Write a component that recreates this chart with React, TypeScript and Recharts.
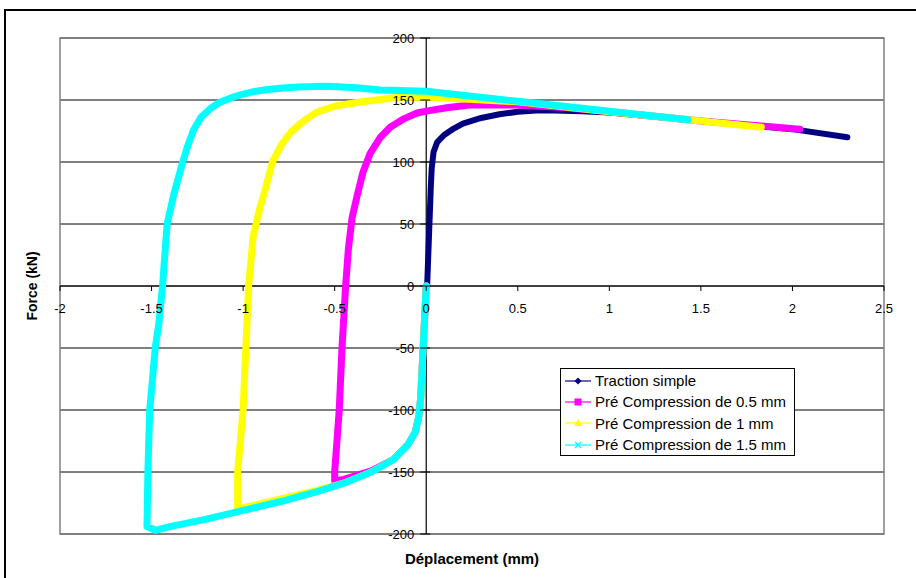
import React from "react";
import {
  LineChart,
  Line,
  XAxis,
  YAxis,
  CartesianGrid,
  ReferenceLine,
  ReferenceArea,
  Legend,
} from "recharts";

// ---------- data ----------
const xTicks = [-2, -1.5, -1, -0.5, 0, 0.5, 1, 1.5, 2, 2.5];
const yTicks = [-200, -150, -100, -50, 0, 50, 100, 150, 200];

const seriesNames = [
  "Traction simple",
  "Pré Compression de 0.5 mm",
  "Pré Compression de 1 mm",
  "Pré Compression de 1.5 mm",
];

const tractionX = [0.005, 0.01, 0.015, 0.02, 0.025, 0.03, 0.04, 0.06, 0.1, 0.15, 0.2, 0.3, 0.4, 0.5, 0.6, 0.7, 0.85, 1.0, 1.5, 2.0, 2.3];
const tractionY = [0, 20, 40, 60, 80, 95, 108, 116, 122, 127, 131, 135.5, 138.5, 140.5, 141.5, 141.5, 141, 140, 133, 126.5, 120];

const pre05X = [0, -0.01, -0.02, -0.03, -0.04, -0.06, -0.1, -0.18, -0.3, -0.45, -0.5, -0.5, -0.475, -0.46, -0.44, -0.425, -0.405, -0.377, -0.345, -0.306, -0.25, -0.197, -0.12, -0.05, 0, 0.12, 0.24, 0.5, 0.75, 1.0, 1.5, 2.04];
const pre05Y = [0, -30, -60, -90, -105, -118, -128, -140, -149, -156, -157, -150, -100, -50, 0, 30, 55, 73, 92, 107, 120, 128, 135, 139.5, 141, 144, 146, 146, 144, 140.5, 133, 126.5];

const pre1X = [0, -0.01, -0.02, -0.03, -0.04, -0.06, -0.1, -0.18, -0.3, -0.45, -0.6, -0.8, -1.0, -1.03, -1.03, -1.0, -0.97, -0.945, -0.91, -0.875, -0.84, -0.79, -0.74, -0.67, -0.6, -0.5, -0.38, -0.16, 0, 0.5, 1.0, 1.5, 1.83];
const pre1Y = [0, -30, -60, -90, -105, -118, -128, -140, -150, -159, -165, -172, -179, -181, -150, -100, 0, 40, 62, 80, 100, 114, 124, 133, 140, 145, 148, 152, 152.5, 148.5, 140.5, 133, 128];

const pre15X = [0, -0.01, -0.02, -0.03, -0.04, -0.06, -0.1, -0.18, -0.3, -0.45, -0.6, -0.8, -1.0, -1.2, -1.4, -1.48, -1.525, -1.52, -1.51, -1.48, -1.46, -1.44, -1.415, -1.38, -1.33, -1.3, -1.27, -1.23, -1.18, -1.13, -1.07, -1.02, -0.95, -0.89, -0.8, -0.7, -0.55, -0.4, -0.25, 0, 0.5, 1.0, 1.43];
const pre15Y = [0, -30, -60, -90, -105, -118, -128, -140, -150, -159, -166, -174, -181, -188, -194, -197, -194, -150, -100, -50, -30, 0, 50, 73, 100, 114, 126, 136, 143, 148, 151.5, 154, 156.5, 158, 159.5, 160.5, 161, 160, 158, 157, 149, 141, 134];

const toPoints = (xs: number[], ys: number[]) => xs.map((x, i) => ({ x, y: ys[i] }));

const tractionData = toPoints(tractionX, tractionY);
const pre05Data = toPoints(pre05X, pre05Y);
const pre1Data = toPoints(pre1X, pre1Y);
const pre15Data = toPoints(pre15X, pre15Y);

// ---------- layout / style ----------
const W = 916;
const H = 578;
const PLOT_LEFT = 60;
const PLOT_TOP = 38;
const PLOT_RIGHT = 884;
const PLOT_BOTTOM = 534;
const X_MIN = -2;
const X_MAX = 2.5;
const Y_MIN = -200;
const Y_MAX = 200;
const ZERO_X = PLOT_LEFT + ((0 - X_MIN) / (X_MAX - X_MIN)) * (PLOT_RIGHT - PLOT_LEFT);
const ZERO_Y = PLOT_TOP + ((Y_MAX - 0) / (Y_MAX - Y_MIN)) * (PLOT_BOTTOM - PLOT_TOP);

const FONT = "'Liberation Sans', Arial, Helvetica, sans-serif";
const COLORS = ["#000080", "#FF00FF", "#FFFF00", "#00FFFF"];

const XTick = (props: any) => {
  const { x, payload } = props;
  return (
    <g>
      <line x1={x} x2={x} y1={ZERO_Y} y2={ZERO_Y + 5} stroke="#000" strokeWidth={1} />
      <text x={x} y={ZERO_Y + 27} textAnchor="middle" fontSize={13} fontFamily={FONT} fill="#000">
        {String(payload.value)}
      </text>
    </g>
  );
};

const YTick = (props: any) => {
  const { y, payload } = props;
  return (
    <g>
      <line x1={ZERO_X - 6} x2={ZERO_X + 4} y1={y} y2={y} stroke="#000" strokeWidth={1} />
      <text x={ZERO_X - 12} y={y + 4.5} textAnchor="end" fontSize={13} fontFamily={FONT} fill="#000">
        {String(payload.value)}
      </text>
    </g>
  );
};

const Marker = ({ idx }: { idx: number }) => {
  const c = COLORS[idx];
  const cx = 13;
  const cy = 6;
  if (idx === 0) {
    return <polygon points={`${cx},${cy - 3.5} ${cx + 3.5},${cy} ${cx},${cy + 3.5} ${cx - 3.5},${cy}`} fill={c} />;
  }
  if (idx === 1) {
    return <rect x={cx - 3.5} y={cy - 3.5} width={7} height={7} fill={c} />;
  }
  if (idx === 2) {
    return <polygon points={`${cx},${cy - 4} ${cx + 4},${cy + 3} ${cx - 4},${cy + 3}`} fill={c} />;
  }
  return (
    <g stroke={c} strokeWidth={1.3}>
      <line x1={cx - 3} y1={cy - 3} x2={cx + 3} y2={cy + 3} />
      <line x1={cx - 3} y1={cy + 3} x2={cx + 3} y2={cy - 3} />
    </g>
  );
};

const LegendBox = () => (
  <div
    style={{
      border: "1px solid #000",
      background: "#fff",
      width: 233,
      height: 85,
      boxSizing: "content-box",
      paddingTop: 1,
      fontFamily: FONT,
      fontSize: 15,
      color: "#000",
    }}
  >
    {seriesNames.map((name, i) => (
      <div key={name} style={{ display: "flex", alignItems: "center", height: 21.3, whiteSpace: "nowrap" }}>
        <svg width={27} height={12} style={{ marginLeft: 4, marginRight: 3 }}>
          <line x1={0} x2={26} y1={6} y2={6} stroke={COLORS[i]} strokeWidth={1.2} />
          <Marker idx={i} />
        </svg>
        <span>{name}</span>
      </div>
    ))}
  </div>
);

export default function App() {
  return (
    <div style={{ position: "absolute", left: 0, top: 0, width: W, height: H, background: "#fff", overflow: "hidden" }}>
      <div
        style={{
          position: "absolute",
          left: 4,
          top: 9,
          width: 1000,
          height: 700,
          border: "2px solid #000",
        }}
      />
      <div style={{ position: "absolute", left: 0, top: 0 }}>
        <LineChart
          width={W}
          height={H}
          margin={{ top: PLOT_TOP, right: W - PLOT_RIGHT, bottom: 14, left: 30 }}
        >
          <CartesianGrid horizontal={true} vertical={false} stroke="#000" strokeWidth={1} />
          <ReferenceArea
            x1={X_MIN}
            x2={X_MAX}
            y1={Y_MIN}
            y2={Y_MAX}
            fill="none"
            fillOpacity={0}
            stroke="#808080"
            strokeWidth={1.5}
            ifOverflow="visible"
          />
          <XAxis
            dataKey="x"
            type="number"
            domain={[X_MIN, X_MAX]}
            ticks={xTicks}
            allowDataOverflow
            axisLine={false}
            tickLine={false}
            tick={<XTick />}
            height={30}
            interval={0}
            label={{
              value: "Déplacement (mm)",
              position: "insideBottom",
              offset: 0,
              style: { fontFamily: FONT, fontSize: 15, fontWeight: "bold", fill: "#000" },
            }}
          />
          <YAxis
            dataKey="y"
            type="number"
            domain={[Y_MIN, Y_MAX]}
            ticks={yTicks}
            allowDataOverflow
            axisLine={false}
            tickLine={false}
            tick={<YTick />}
            width={30}
            interval={0}
            label={{
              value: "Force (kN)",
              angle: -90,
              position: "insideLeft",
              offset: 2,
              style: { fontFamily: FONT, fontSize: 14, fontWeight: "bold", fill: "#000", textAnchor: "middle" },
            }}
          />
          <ReferenceLine y={0} stroke="#000" strokeWidth={1.2} />
          <ReferenceLine x={0} stroke="#000" strokeWidth={1.2} />
          <Line
            data={tractionData}
            dataKey="y"
            name={seriesNames[0]}
            stroke={COLORS[0]}
            strokeWidth={6}
            dot={false}
            type="linear"
            strokeLinejoin="round"
            strokeLinecap="round"
            isAnimationActive={false}
          />
          <Line
            data={pre05Data}
            dataKey="y"
            name={seriesNames[1]}
            stroke={COLORS[1]}
            strokeWidth={7}
            dot={false}
            type="linear"
            strokeLinejoin="round"
            strokeLinecap="round"
            isAnimationActive={false}
          />
          <Line
            data={pre1Data}
            dataKey="y"
            name={seriesNames[2]}
            stroke={COLORS[2]}
            strokeWidth={7}
            dot={false}
            type="linear"
            strokeLinejoin="round"
            strokeLinecap="round"
            isAnimationActive={false}
          />
          <Line
            data={pre15Data}
            dataKey="y"
            name={seriesNames[3]}
            stroke={COLORS[3]}
            strokeWidth={7}
            dot={false}
            type="linear"
            strokeLinejoin="round"
            strokeLinecap="round"
            isAnimationActive={false}
          />
          <Legend
            layout="vertical"
            align="center"
            verticalAlign="middle"
            content={<LegendBox />}
            wrapperStyle={{ left: 560, top: 368, width: 236, height: 88, right: "auto", bottom: "auto" }}
          />
        </LineChart>
      </div>
    </div>
  );
}
